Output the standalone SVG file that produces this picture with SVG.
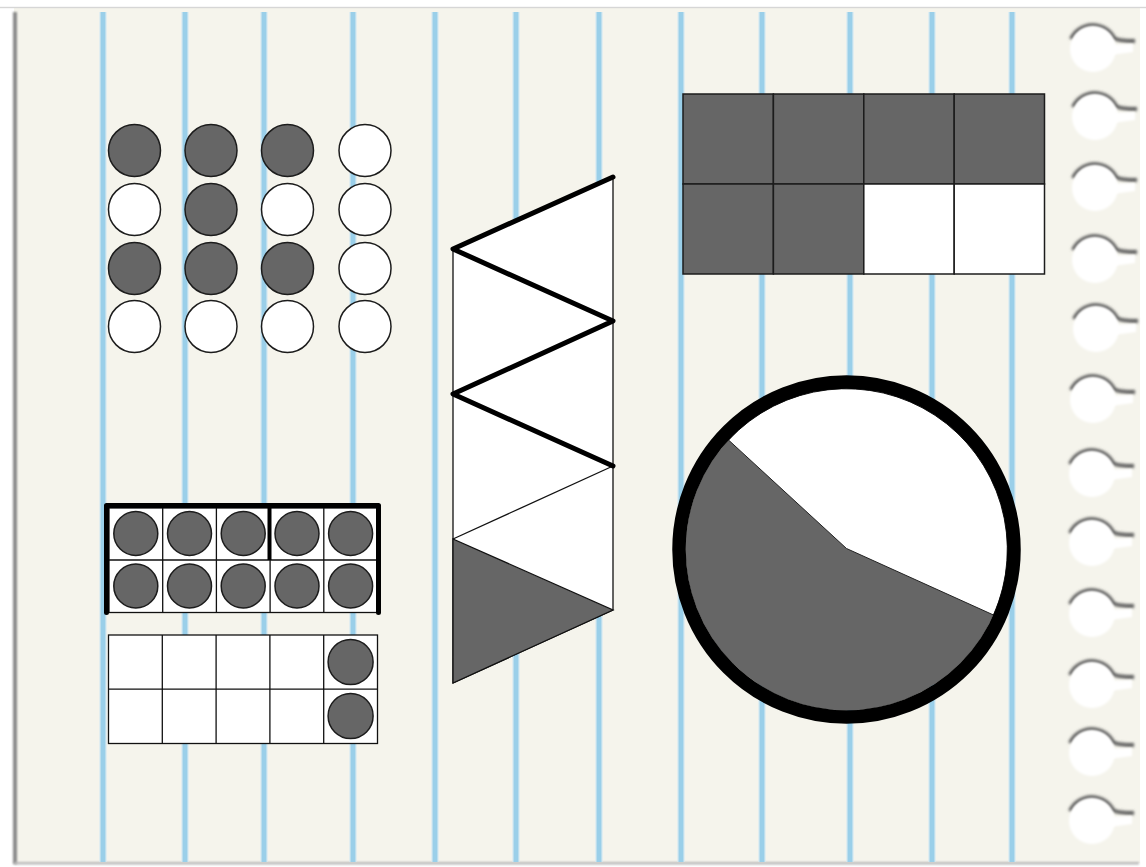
<svg xmlns="http://www.w3.org/2000/svg" width="1146" height="867" viewBox="0 0 1146 867">
<defs>
<style>
.bl{stroke:#9acfe9;stroke-width:5;}
.bl2{stroke:#d4eaf3;stroke-width:8;}
.dk{fill:#666666;stroke:#1c1c1c;stroke-width:1.5;}
.wt{fill:#ffffff;stroke:#1c1c1c;stroke-width:1.5;}
.cell{fill:#ffffff;stroke:#111;stroke-width:1.3;}
.thin{fill:none;stroke:#111;stroke-width:1.3;}
.thick{fill:none;stroke:#000;stroke-width:5;stroke-linejoin:round;stroke-linecap:round;}
</style>
<filter id="blur" x="-50%" y="-50%" width="200%" height="200%"><feGaussianBlur stdDeviation="1.4"/></filter>
<filter id="blur2" x="-50%" y="-50%" width="200%" height="200%"><feGaussianBlur stdDeviation="0.8"/></filter>
<filter id="blurU" filterUnits="userSpaceOnUse" x="0" y="0" width="1146" height="867"><feGaussianBlur stdDeviation="0.9"/></filter>
<g id="hole">
<path d="M-22,-8 A24,24 0 0 1 21,-9 Q25,-6 42,-6" fill="none" stroke="#5a5a5a" stroke-width="4" filter="url(#blur)"/>
<circle cx="0" cy="2" r="23" fill="#ffffff" filter="url(#blur2)"/>
<path d="M16,-2 L40,-3 L40,5 L18,8 Z" fill="#ffffff" filter="url(#blur2)"/>
</g>
</defs>

<g id="paper">
<rect x="0" y="0" width="1146" height="867" fill="#ffffff"/>
<rect x="14" y="8" width="1126" height="855" fill="#f5f4ec"/>
<rect x="0" y="6.8" width="1146" height="1.4" fill="#d6d6d6"/>
<rect x="13" y="12" width="4" height="852" fill="#8a8a8a" filter="url(#blurU)"/>
<rect x="14" y="862" width="1125" height="2.5" fill="#b8b8b8" filter="url(#blurU)"/>
<g id="blue-lines">
<g class="bl2" opacity="0.6">
<line x1="103" y1="12" x2="103" y2="862"/><line x1="185" y1="12" x2="185" y2="862"/><line x1="264" y1="12" x2="264" y2="862"/><line x1="353" y1="12" x2="353" y2="862"/><line x1="435" y1="12" x2="435" y2="862"/><line x1="516" y1="12" x2="516" y2="862"/><line x1="599" y1="12" x2="599" y2="862"/><line x1="681" y1="12" x2="681" y2="862"/><line x1="762" y1="12" x2="762" y2="862"/><line x1="850" y1="12" x2="850" y2="862"/><line x1="932" y1="12" x2="932" y2="862"/><line x1="1012" y1="12" x2="1012" y2="862"/>
</g>
<g class="bl">
<line x1="103" y1="12" x2="103" y2="862"/><line x1="185" y1="12" x2="185" y2="862"/><line x1="264" y1="12" x2="264" y2="862"/><line x1="353" y1="12" x2="353" y2="862"/><line x1="435" y1="12" x2="435" y2="862"/><line x1="516" y1="12" x2="516" y2="862"/><line x1="599" y1="12" x2="599" y2="862"/><line x1="681" y1="12" x2="681" y2="862"/><line x1="762" y1="12" x2="762" y2="862"/><line x1="850" y1="12" x2="850" y2="862"/><line x1="932" y1="12" x2="932" y2="862"/><line x1="1012" y1="12" x2="1012" y2="862"/>
</g>
</g>
</g>

<g id="holes">
<use href="#hole" x="1093" y="47"/>
<use href="#hole" x="1095" y="115"/>
<use href="#hole" x="1095" y="186"/>
<use href="#hole" x="1095" y="258"/>
<use href="#hole" x="1096" y="327"/>
<use href="#hole" x="1093" y="398"/>
<use href="#hole" x="1092" y="472"/>
<use href="#hole" x="1092" y="541"/>
<use href="#hole" x="1092" y="612"/>
<use href="#hole" x="1092" y="683"/>
<use href="#hole" x="1092" y="751"/>
<use href="#hole" x="1092" y="819"/>
</g>

<g id="dot-array">
<circle class="dk" cx="134.5" cy="150.5" r="26"/>
<circle class="wt" cx="134.5" cy="209.5" r="26"/>
<circle class="dk" cx="134.5" cy="268.5" r="26"/>
<circle class="wt" cx="134.5" cy="326.5" r="26"/>
<circle class="dk" cx="211" cy="150.5" r="26"/>
<circle class="dk" cx="211" cy="209.5" r="26"/>
<circle class="dk" cx="211" cy="268.5" r="26"/>
<circle class="wt" cx="211" cy="326.5" r="26"/>
<circle class="dk" cx="287.5" cy="150.5" r="26"/>
<circle class="wt" cx="287.5" cy="209.5" r="26"/>
<circle class="dk" cx="287.5" cy="268.5" r="26"/>
<circle class="wt" cx="287.5" cy="326.5" r="26"/>
<circle class="wt" cx="365" cy="150.5" r="26"/>
<circle class="wt" cx="365" cy="209.5" r="26"/>
<circle class="wt" cx="365" cy="268.5" r="26"/>
<circle class="wt" cx="365" cy="326.5" r="26"/>
</g>

<g id="ten-frame-full">
<rect class="cell" x="109" y="508" width="268.5" height="104.5"/>
<path class="thin" d="M162.7,508V612.5M216.4,508V612.5M270.1,508V612.5M323.8,508V612.5M109,560H377.5"/>
<path class="thick" d="M106.5,612.5V505.5H378.5V612.5" stroke-linecap="butt"/>
<line x1="269.5" y1="505.5" x2="269.5" y2="560" stroke="#000" stroke-width="4"/>
<circle class="dk" cx="135.8" cy="533.5" r="22"/>
<circle class="dk" cx="189.5" cy="533.5" r="22"/>
<circle class="dk" cx="243.2" cy="533.5" r="22"/>
<circle class="dk" cx="297" cy="533.5" r="22"/>
<circle class="dk" cx="350.6" cy="533.5" r="22"/>
<circle class="dk" cx="135.8" cy="586" r="22"/>
<circle class="dk" cx="189.5" cy="586" r="22"/>
<circle class="dk" cx="243.2" cy="586" r="22"/>
<circle class="dk" cx="297" cy="586" r="22"/>
<circle class="dk" cx="350.6" cy="586" r="22"/>
</g>

<g id="ten-frame-two">
<rect class="cell" x="108.5" y="635" width="269" height="108.5"/>
<path class="thin" d="M162.3,635V743.5M216.1,635V743.5M269.9,635V743.5M323.7,635V743.5M108.5,689.2H377.5"/>
<circle class="dk" cx="350.6" cy="662" r="22.5"/>
<circle class="dk" cx="350.6" cy="716" r="22.5"/>
</g>

<g id="triangle-strip">
<path d="M613,177 V610 L453,683 V249 Z" fill="#ffffff" stroke="#111" stroke-width="1.3" stroke-linejoin="round"/>
<path d="M453,539 L613,610 L453,683 Z" fill="#666666" stroke="#111" stroke-width="1.3"/>
<path class="thin" d="M613,466 L453,539"/>
<path class="thick" d="M613,177 L453,249 L613,321 L453,394 L613,466"/>
</g>

<g id="rect-grid">
<rect x="683" y="94" width="361.5" height="180" fill="#ffffff"/>
<rect class="dk" x="683" y="94" width="90.4" height="90"/>
<rect class="dk" x="773.4" y="94" width="90.4" height="90"/>
<rect class="dk" x="863.8" y="94" width="90.4" height="90"/>
<rect class="dk" x="954.2" y="94" width="90.3" height="90"/>
<rect class="dk" x="683" y="184" width="90.4" height="90"/>
<rect class="dk" x="773.4" y="184" width="90.4" height="90"/>
<rect class="wt" x="863.8" y="184" width="90.4" height="90"/>
<rect class="wt" x="954.2" y="184" width="90.3" height="90"/>
</g>

<g id="pie-circle">
<circle cx="846.5" cy="549.5" r="161" fill="#666666"/>
<path d="M846.5,548.5 L728.5,440 A161,161 0 0 1 993.5,615 Z" fill="#ffffff" stroke="#222" stroke-width="1"/>
<circle cx="846.5" cy="549.5" r="167.5" fill="none" stroke="#000" stroke-width="13.5"/>
</g>
</svg>
